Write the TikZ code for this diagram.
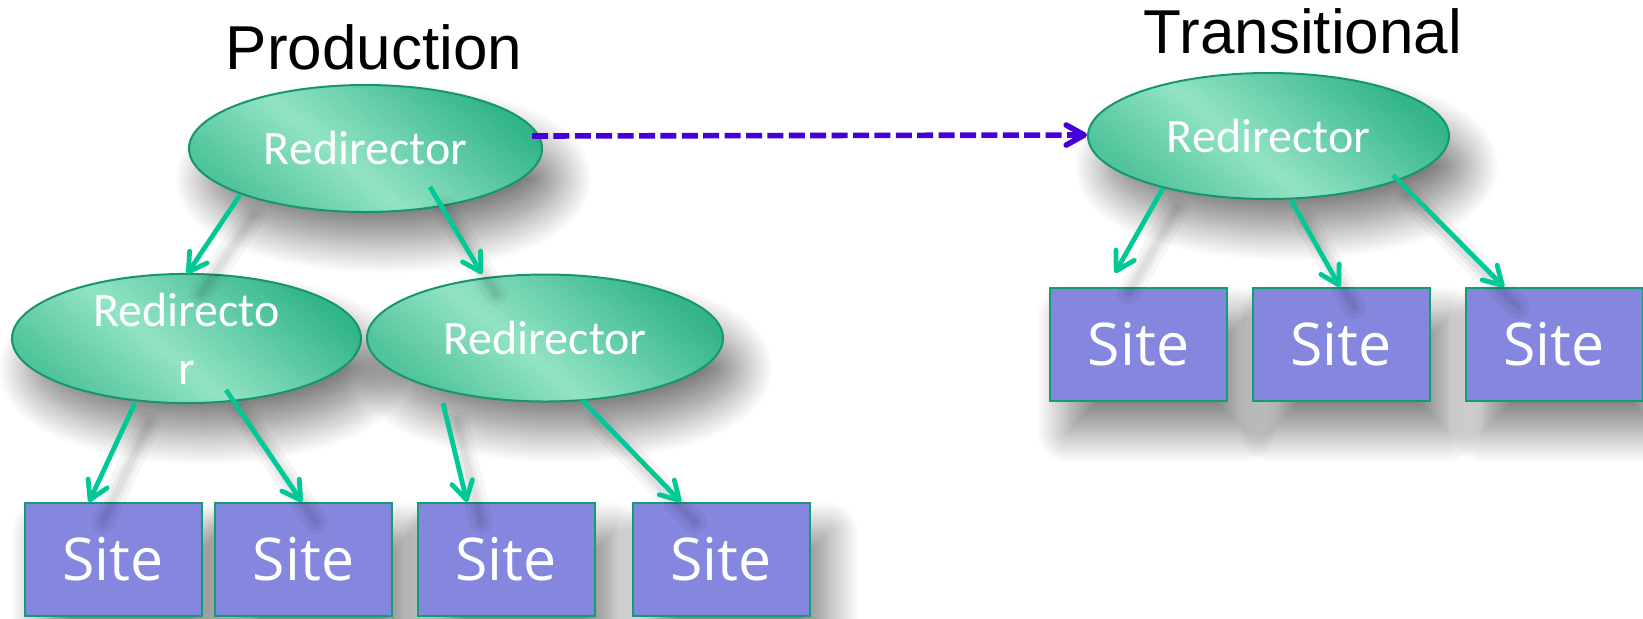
\documentclass[tikz,border=0pt]{standalone}
\usepackage{fontspec}
\newfontfamily\labelfont{Carlito}
\newfontfamily\sitefont{Open Sans}
\newfontfamily\titlefont{Liberation Sans}
\usetikzlibrary{arrows.meta,shapes.geometric,shadows.blur}

\definecolor{glight}{RGB}{146,227,196}
\definecolor{gmid}{RGB}{80,196,154}
\definecolor{gdark}{RGB}{50,181,136}
\definecolor{gborder}{RGB}{22,150,108}
\definecolor{sitefill}{RGB}{133,134,221}
\definecolor{siteborder}{RGB}{18,158,116}
\definecolor{linkgreen}{RGB}{0,200,150}
\definecolor{linkblue}{RGB}{70,0,215}

% diagonal light band across the redirector ellipses
\pgfdeclarehorizontalshading{redirshade}{100bp}{%
  color(0bp)=(gmid); color(25bp)=(gmid); color(45bp)=(glight);
  color(75bp)=(gdark); color(100bp)=(gdark)}

\tikzset{
  softshadow/.style={blur shadow={shadow xshift=9pt, shadow yshift=-15pt,
      shadow blur radius=16pt, shadow blur steps=28, shadow opacity=50}},
  redir/.style={ellipse, draw=gborder, line width=1pt, shade,
      shading=redirshade, shading angle=50, inner sep=0pt, text=white,
      align=center, font=\labelfont\fontsize{24}{29}\selectfont, softshadow},
  sitebox/.style={rectangle, draw=siteborder, line width=1pt, fill=sitefill,
      minimum width=88.5pt, minimum height=56.5pt, inner sep=0pt, text=white,
      font=\sitefont\fontsize{29.5}{36}\selectfont, softshadow},
  % soft grey trail under each connector
  trail/.style={preaction={draw=black, draw opacity=0.035, line width=12pt,
      line cap=round, -, transform canvas={shift={(7pt,-10pt)}}},
    preaction={draw=black, draw opacity=0.045, line width=7pt,
      line cap=round, -, transform canvas={shift={(7pt,-10pt)}}},
    preaction={draw=black, draw opacity=0.05, line width=3.5pt,
      line cap=round, -, transform canvas={shift={(7pt,-10pt)}}}},
  link/.style={trail, draw=linkgreen, line width=2.4pt,
      -{Straight Barb[length=9pt,width=10.5pt,round]}},
  jump/.style={draw=linkblue, line width=2.8pt, dash pattern=on 8pt off 2.7pt,
      -{Straight Barb[length=9pt,width=10pt,round]}},
  heading/.style={font=\titlefont\fontsize{31}{36}\selectfont, anchor=base}
}

\begin{document}
\begin{tikzpicture}[x=0.5pt, y=-0.5pt]
\path[use as bounding box] (0,0) rectangle (1643,618);

% titles
\node[heading] (prodtitle) at (374,69) {Production};
\node[heading] (transtitle) at (1303,53) {Transitional};

% redirectors
\node[redir, minimum width=176.5pt, minimum height=63.5pt] (P) at (365.5,148.5) {Redirector};
\node[redir, minimum width=174.5pt, minimum height=63.5pt] (L) at (186.5,338.5) {Redirecto\\r};
\node[redir, minimum width=178pt, minimum height=63.5pt] (R) at (545,338) {Redirector};
\node[redir, minimum width=180.5pt, minimum height=63pt] (T) at (1268.5,136) {Redirector};

% production sites
\node[sitebox] (S1) at (113,559.5) {Site};
\node[sitebox] (S2) at (303.5,559.5) {Site};
\node[sitebox] (S3) at (506,559.5) {Site};
\node[sitebox] (S4) at (721,559.5) {Site};

% transitional sites
\node[sitebox] (TS1) at (1138.5,344.5) {Site};
\node[sitebox] (TS2) at (1341,344.5) {Site};
\node[sitebox] (TS3) at (1554,344.5) {Site};

% production tree
\draw[link] ([shift={(-125.5,46.5)}]P.center) -- ([shift={(0.5,-64.5)}]L.center);
\draw[link] ([shift={(64.5,38.5)}]P.center) -- ([shift={(-63,-64)}]R.center);
\draw[link] ([shift={(-51.5,64.5)}]L.center) -- ([shift={(-24,-57.5)}]S1.center);
\draw[link] ([shift={(39.5,51.5)}]L.center) -- ([shift={(-1.5,-57.5)}]S2.center);
\draw[link] ([shift={(-102,65)}]R.center) -- ([shift={(-39,-57.5)}]S3.center);
\draw[link] ([shift={(37,62)}]R.center) -- ([shift={(-40,-57.5)}]S4.center);

% transitional tree
\draw[link] ([shift={(-105.5,52)}]T.center) -- ([shift={(-23.5,-71.5)}]TS1.center);
\draw[link] ([shift={(22.5,64)}]T.center) -- ([shift={(-1,-57.5)}]TS2.center);
\draw[link] ([shift={(124.5,39)}]T.center) -- ([shift={(-50,-57.5)}]TS3.center);

% hand-over from production to transitional
\draw[jump] ([shift={(166.5,-12.5)}]P.center) -- ([shift={(-181.5,-1)}]T.center);
\end{tikzpicture}
\end{document}
